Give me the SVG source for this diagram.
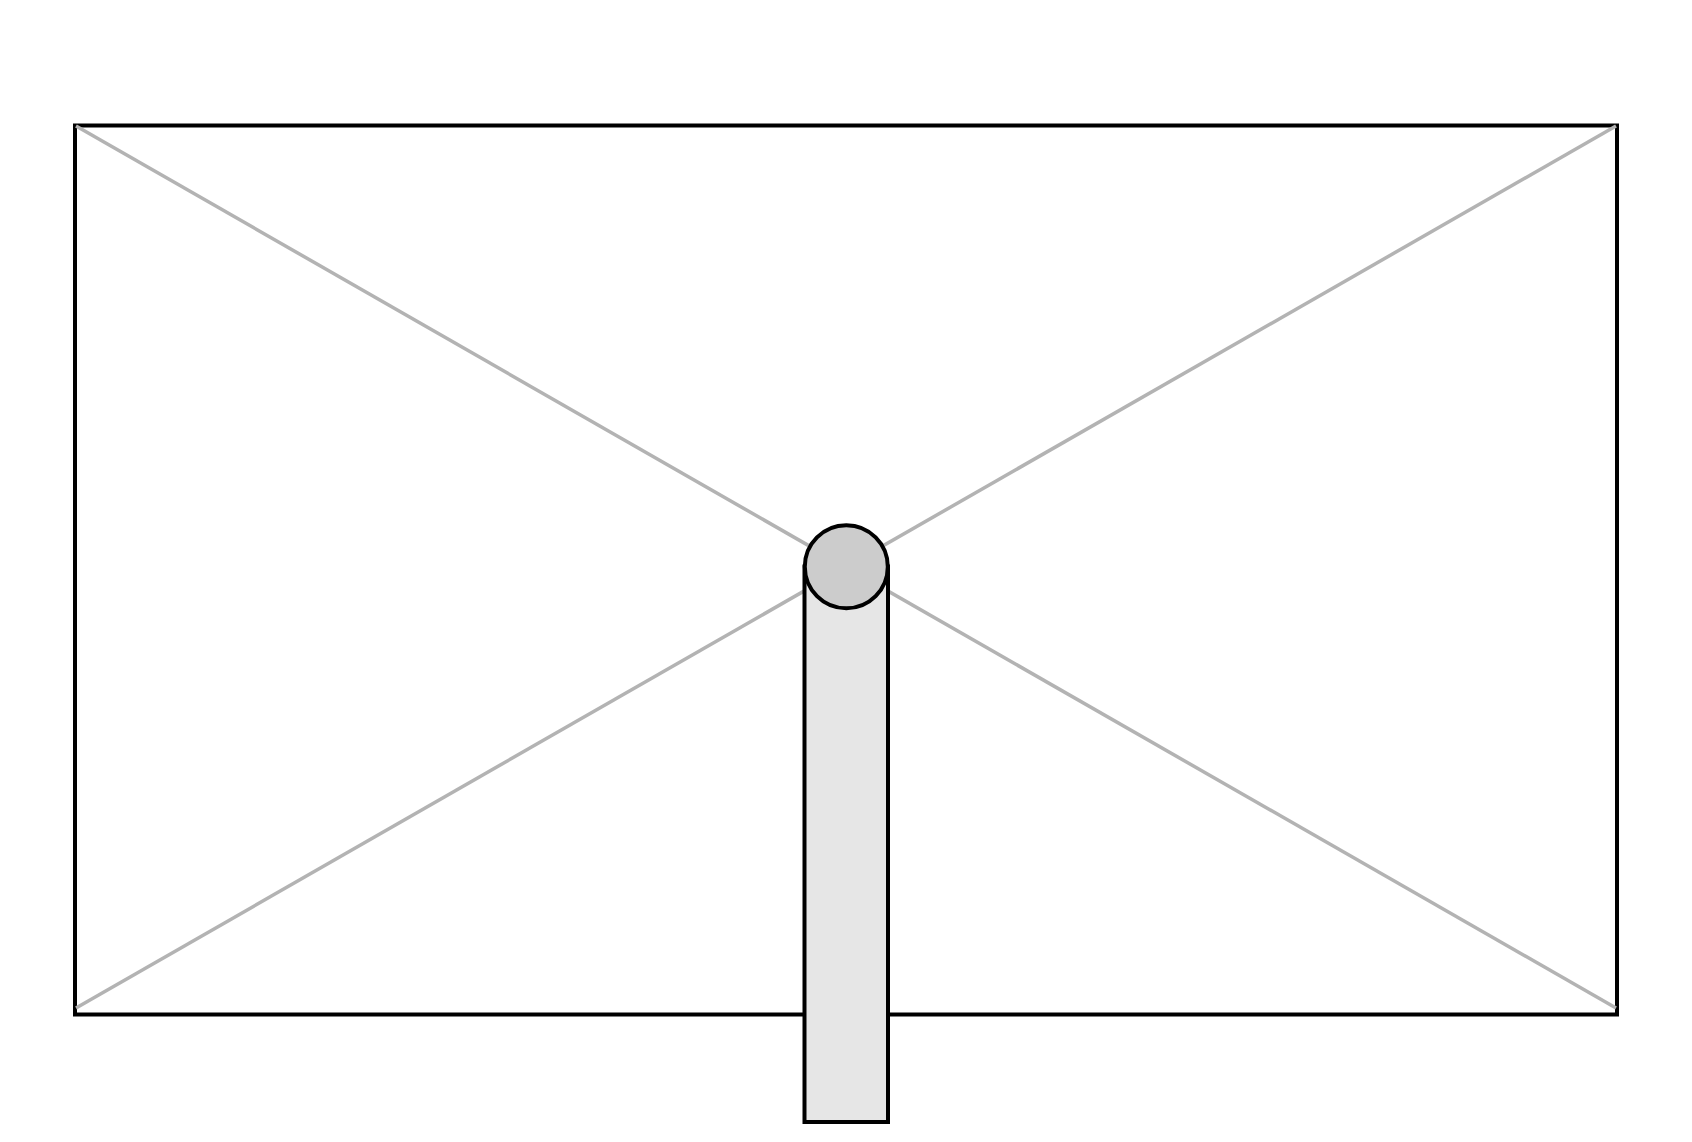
<svg xmlns="http://www.w3.org/2000/svg" width="1692" height="1142" viewBox="0 0 1692 1142">
<style>
.frame{fill:#fff;stroke:#000;stroke-width:4}
.diag{stroke:#b3b3b3;stroke-width:3.5;fill:none}
.part{stroke:#000;stroke-width:4}
</style>
<rect width="1692" height="1142" fill="#fff"/>
<g id="frame">
<rect class="frame" x="75" y="125.5" width="1542" height="889"/>
</g>
<g id="connectors">
<line class="diag" x1="76" y1="126" x2="1616" y2="1008"/>
<line class="diag" x1="76" y1="1008" x2="1616" y2="126"/>
</g>
<g id="stem">
<rect class="part" x="804.5" y="566.5" width="83.5" height="555.5" fill="#e6e6e6"/>
</g>
<g id="knob">
<circle class="part" cx="846.3" cy="566.7" r="41.5" fill="#cccccc"/>
</g>
</svg>
